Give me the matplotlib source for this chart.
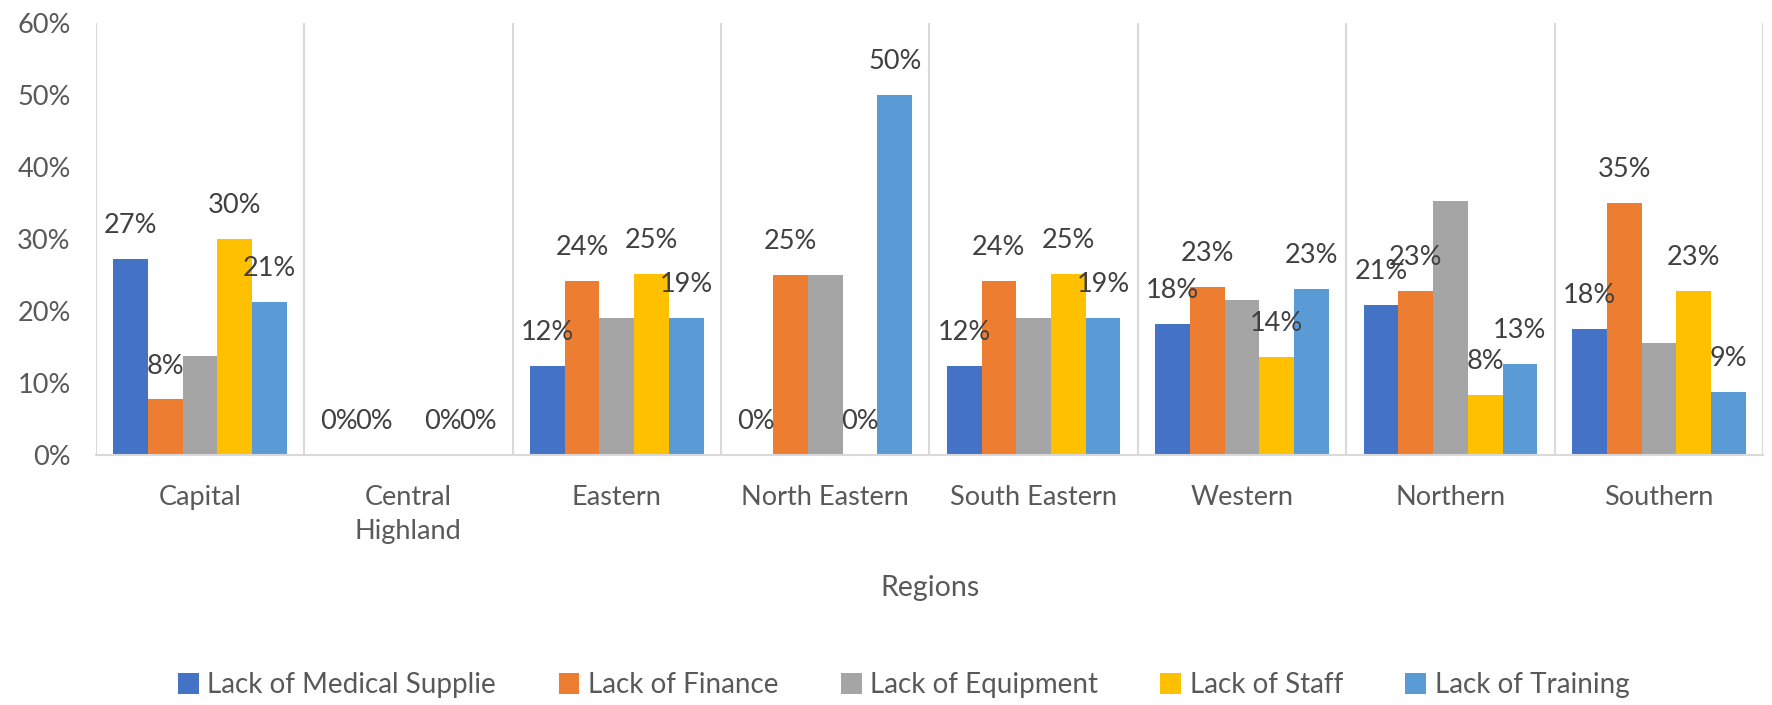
import matplotlib.pyplot as plt
import numpy as np

# Dados do gráfico
regioes = ['Capital', 'Central\nHighland', 'Eastern', 'North Eastern',
           'South Eastern', 'Western', 'Northern', 'Southern']
series = ['Lack of Medical Supplie', 'Lack of Finance', 'Lack of Equipment',
          'Lack of Staff', 'Lack of Training']
medical = [27.2, 0, 12.3, 0, 12.3, 18.2, 20.8, 17.5]
finance = [7.7, 0, 24.2, 25, 24.2, 23.3, 22.8, 35.0]
equipment = [13.7, 0, 19.0, 25, 19.0, 21.5, 35.3, 15.6]
staff = [30.0, 0, 25.2, 0, 25.2, 13.6, 8.3, 22.8]
training = [21.3, 0, 19.0, 50, 19.0, 23.0, 12.6, 8.7]
# quais séries têm rótulo de dados
com_rotulo = [True, True, False, True, True]

cores = ['#4472C4', '#ED7D31', '#A5A5A5', '#FFC000', '#5B9BD5']

plt.rcParams['font.family'] = ['Lato', 'DejaVu Sans']

fig = plt.figure(figsize=(17.72, 7.05), dpi=100)
ax = fig.add_axes([0.054, 0.355, 0.941, 0.612])

x = np.arange(len(regioes))
largura = 1 / 6
valores = [medical, finance, equipment, staff, training]

for i, (nome, vals) in enumerate(zip(series, valores)):
    pos = x + (i - 2) * largura
    ax.bar(pos, vals, largura, color=cores[i], label=nome)
    if com_rotulo[i]:
        for px, v in zip(pos, vals):
            ax.annotate(f'{v:.0f}%', (px, v), xytext=(0, 24),
                        textcoords='offset points', ha='center', va='center',
                        fontsize=19.5, color='#404040')

# Linhas verticais separando as categorias
for b in np.arange(len(regioes) + 1) - 0.5:
    ax.plot([b, b], [0, 60], color='#D9D9D9', lw=1.5, zorder=0)

ax.set_xlim(-0.5, len(regioes) - 0.5)
ax.set_ylim(0, 60)
ax.set_yticks(np.arange(0, 61, 10))
ax.set_yticklabels([f'{t}%' for t in range(0, 61, 10)])
ax.set_xticks(x)
ax.set_xticklabels(regioes, linespacing=1.45)
ax.tick_params(axis='both', length=0, labelsize=19.5, colors='#595959')
ax.tick_params(axis='x', pad=22)
ax.tick_params(axis='y', pad=18)

for s in ['top', 'right', 'left']:
    ax.spines[s].set_visible(False)
ax.spines['bottom'].set_color('#D9D9D9')
ax.spines['bottom'].set_linewidth(1.5)

fig.text(0.525, 0.166, 'Regions', ha='center', va='center', fontsize=20.5,
         color='#595959')

fig.legend(loc='center', bbox_to_anchor=(0.51, 0.028), ncol=5, frameon=False,
           fontsize=20, handlelength=0.75, handleheight=0.75, columnspacing=2.25,
           handletextpad=0.3, labelcolor='#595959')

fig.savefig('out.png', dpi=100)
